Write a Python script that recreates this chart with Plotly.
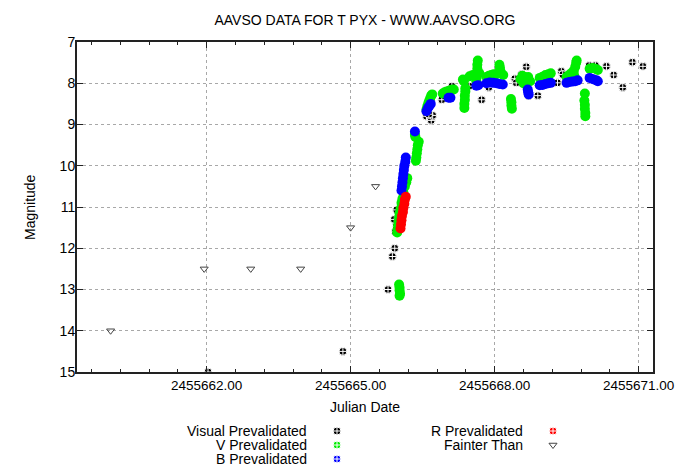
import plotly.graph_objects as go

# Visual Prevalidated (black)
vis_jd = [2455662.03, 2455664.84, 2455665.78, 2455665.87, 2455665.92, 2455665.93, 2455665.95,
          2455665.91, 2455665.96, 2455666.19, 2455666.16, 2455666.58, 2455666.68, 2455666.71,
          2455666.63, 2455666.90, 2455667.11, 2455667.47, 2455667.52, 2455667.73, 2455667.88,
          2455668.42, 2455668.45, 2455668.56, 2455668.66, 2455668.71, 2455668.90, 2455669.31,
          2455669.39, 2455669.42, 2455669.97, 2455670.10, 2455670.33, 2455670.48, 2455670.67,
          2455670.87, 2455671.09]
vis_mag = [15.0, 14.5, 13.0, 12.2, 12.0, 11.6, 11.47,
           11.3, 11.07, 10.3, 10.34, 8.8, 8.9, 8.78,
           8.75, 8.4, 8.07, 8.07, 7.79, 8.4, 8.1,
           7.89, 7.99, 7.79, 7.6, 8.3, 8.3, 7.99,
           7.71, 7.79, 7.57, 7.57, 7.59, 7.8, 8.1,
           7.49, 7.59]

# V Prevalidated (green)
v_jd = [2455666.01, 2455666.02, 2455666.02, 2455666.03, 2455666.02,
        2455665.97, 2455665.98, 2455665.99, 2455666.00, 2455666.01, 2455666.02, 2455666.04,
        2455666.06, 2455666.08, 2455666.10, 2455666.13, 2455666.16, 2455666.18,
        2455666.34, 2455666.35,
        2455666.36, 2455666.37, 2455666.38, 2455666.39, 2455666.40, 2455666.42,
        2455666.58, 2455666.60, 2455666.62, 2455666.64, 2455666.66, 2455666.68, 2455666.70,
        2455666.92, 2455666.96, 2455667.00, 2455667.05, 2455667.10, 2455667.15,
        2455667.37, 2455667.37, 2455667.38, 2455667.38, 2455667.39, 2455667.39, 2455667.34, 2455667.36,
        2455667.62, 2455667.63, 2455667.63, 2455667.64, 2455667.64, 2455667.65,
        2455667.48, 2455667.55, 2455667.68,
        2455667.83, 2455667.88, 2455667.93, 2455667.98, 2455668.03, 2455668.08, 2455668.13, 2455668.18,
        2455668.10, 2455668.11, 2455668.12,
        2455668.34, 2455668.35, 2455668.35, 2455668.36,
        2455668.54, 2455668.58, 2455668.62, 2455668.66, 2455668.70, 2455668.74, 2455668.60, 2455668.65,
        2455668.94, 2455669.00, 2455669.06, 2455669.12, 2455669.17,
        2455669.50, 2455669.55, 2455669.60, 2455669.65, 2455669.68, 2455669.70, 2455669.71,
        2455669.58, 2455669.66,
        2455669.88, 2455669.87, 2455669.88, 2455669.88, 2455669.89, 2455669.89,
        2455669.98, 2455670.04, 2455670.10, 2455670.15]
v_mag = [12.88, 12.95, 13.02, 13.1, 13.15,
         11.62, 11.55, 11.45, 11.35, 11.25, 11.15, 11.05,
         10.9, 10.8, 10.65, 10.5, 10.4, 10.3,
         9.25, 9.3,
         9.88, 9.8, 9.7, 9.6, 9.5, 9.42,
         8.64, 8.55, 8.48, 8.42, 8.36, 8.3, 8.27,
         8.25, 8.22, 8.2, 8.18, 8.16, 8.15,
         8.6, 8.5, 8.4, 8.3, 8.2, 8.12, 7.91, 7.95,
         7.95, 7.85, 7.75, 7.65, 7.55, 7.45,
         7.83, 7.8, 7.75,
         7.85, 7.82, 7.8, 7.78, 7.78, 7.76, 7.75, 7.8,
         7.55, 7.62, 7.7,
         8.38, 8.46, 8.54, 8.62,
         7.9, 7.82, 7.85, 7.9, 7.85, 7.95, 8.0, 8.03,
         7.87, 7.84, 7.8, 7.78, 7.76,
         7.85, 7.8, 7.75, 7.7, 7.6, 7.5, 7.45,
         7.87, 7.82,
         8.25, 8.42, 8.52, 8.62, 8.72, 8.8,
         7.65, 7.63, 7.65, 7.68]

# B Prevalidated (blue)
b_jd = [2455666.06, 2455666.07, 2455666.08, 2455666.09, 2455666.10, 2455666.11, 2455666.12,
        2455666.14, 2455666.15, 2455666.34,
        2455666.58, 2455666.61, 2455666.64, 2455666.67,
        2455667.04, 2455667.08, 2455667.62, 2455667.66,
        2455667.83, 2455667.90, 2455667.97, 2455668.04, 2455668.10, 2455668.17,
        2455668.69, 2455668.70, 2455668.71,
        2455668.94, 2455669.00, 2455669.06, 2455669.12, 2455669.17,
        2455669.50, 2455669.56, 2455669.62, 2455669.68, 2455669.73,
        2455669.98, 2455670.05, 2455670.12, 2455670.15]
b_mag = [10.6, 10.5, 10.4, 10.3, 10.2, 10.1, 10.0,
         9.9, 9.8, 9.17,
         8.68, 8.6, 8.55, 8.5,
         8.35, 8.35, 8.06, 8.05,
         8.0, 7.98, 7.99, 8.0, 8.02, 8.03,
         8.15, 8.22, 8.27,
         8.05, 8.04, 8.02, 8.0, 7.99,
         7.99, 7.97, 7.96, 7.95, 7.93,
         7.87, 7.9, 7.93, 7.95]

# R Prevalidated (red)
r_jd = [2455666.04, 2455666.05, 2455666.06, 2455666.07, 2455666.09, 2455666.10, 2455666.12,
        2455666.13, 2455666.15]
r_mag = [11.52, 11.42, 11.32, 11.22, 11.12, 11.02, 10.92, 10.82, 10.75]

# Fainter Than (open triangles)
f_jd = [2455660.00, 2455661.95, 2455662.92, 2455663.96, 2455665.00, 2455665.52]
f_mag = [14.0, 12.5, 12.5, 12.5, 11.5, 10.5]

x_ticks = [2455662, 2455665, 2455668, 2455671]
x_tick_text = ["2455662.00", "2455665.00", "2455668.00", "2455671.00"]

FONT = "Liberation Sans"
FS = 14
W, H = 675, 473
ML, MR, MT, MB = 77, 22, 42, 10
plot_bottom = 372
paper_h = H - MT - MB
ydom0 = (H - MB - plot_bottom) / paper_h

fig = go.Figure()

fig.add_trace(go.Scatter(x=vis_jd, y=vis_mag, mode="markers",
                         marker=dict(symbol="circle-cross", size=8, color="black",
                                     line=dict(color="white", width=1))))
fig.add_trace(go.Scatter(x=v_jd, y=v_mag, mode="markers",
                         marker=dict(symbol="circle", size=10, color="#00ee00", line=dict(width=0))))
fig.add_trace(go.Scatter(x=b_jd, y=b_mag, mode="markers",
                         marker=dict(symbol="circle", size=10, color="#0000ff", line=dict(width=0))))
fig.add_trace(go.Scatter(x=r_jd, y=r_mag, mode="markers",
                         marker=dict(symbol="circle", size=10, color="#ff0000", line=dict(width=0))))
fig.add_trace(go.Scatter(x=f_jd, y=f_mag, mode="markers",
                         marker=dict(symbol="triangle-down-open", size=7, color="#444444",
                                     line=dict(width=1))))

# Legend (text left of symbol, like the original); positions in page pixels
leg_labels = ["Visual Prevalidated", "V Prevalidated", "B Prevalidated",
              "R Prevalidated", "Fainter Than"]
leg_colors = ["black", "#00ee00", "#0000ff", "#ff0000", "#444444"]
leg_text_px = [308, 308, 308, 524, 524]
leg_mark_px = [337, 337, 337, 553, 553]
leg_row_py = [431, 445, 459, 431, 445]

for i, lab in enumerate(leg_labels):
    if lab == "Fainter Than":
        mk = dict(symbol="triangle-down-open", size=7, color=leg_colors[i],
                  line=dict(color=leg_colors[i], width=1))
    else:
        mk = dict(symbol="circle-cross", size=8, color=leg_colors[i],
                  line=dict(color="white", width=1))
    yy = (H - MB) - leg_row_py[i]
    fig.add_trace(go.Scatter(x=[leg_mark_px[i] - ML], y=[yy], xaxis="x2", yaxis="y2",
                             mode="markers", marker=mk))
    fig.add_annotation(x=leg_text_px[i] - ML, y=yy, xref="x2", yref="y2", text=lab,
                       showarrow=False, xanchor="right", yanchor="middle", borderpad=0,
                       font=dict(family=FONT, size=FS, color="black"))

axis_common = dict(showline=True, linecolor="#222222", linewidth=2, mirror="ticks",
                   ticks="inside", tickcolor="#222222", ticklen=6, tickwidth=1,
                   showgrid=True, gridcolor="#a8a8a8", griddash="dot", gridwidth=1,
                   zeroline=False, automargin=False, ticklabeloverflow="allow",
                   tickfont=dict(family=FONT, size=FS, color="black"))

fig.update_layout(
    width=W, height=H,
    margin=dict(l=ML, r=MR, t=MT, b=MB, autoexpand=False),
    paper_bgcolor="white", plot_bgcolor="white",
    showlegend=False,
    title=dict(text="AAVSO DATA FOR T PYX - WWW.AAVSO.ORG", x=0.5, xref="paper",
               y=1 - 20 / H, yanchor="middle",
               font=dict(family=FONT, size=FS, color="black")),
    xaxis=dict(axis_common, range=[2455659.3, 2455671.3], tickvals=x_ticks,
               ticktext=x_tick_text, anchor="y",
               tickfont=dict(family=FONT, size=13.5, color="black"),
               minor=dict(ticks="inside", ticklen=3, tickcolor="#222222",
                          tick0=2455662, dtick=0.6, showgrid=False)),
    yaxis=dict(axis_common, range=[15, 7], dtick=1, tick0=7, domain=[ydom0, 1], anchor="x",
               ticklabelstandoff=-3),
    xaxis2=dict(range=[0, W - ML - MR], domain=[0, 1], visible=False, anchor="y2",
                fixedrange=True),
    yaxis2=dict(range=[0, H - MB - plot_bottom], domain=[0, ydom0], visible=False,
                anchor="x2", fixedrange=True),
)

fig.add_annotation(text="Julian Date", xref="paper", yref="paper", x=0.5,
                   y=(H - MB - 407) / paper_h, showarrow=False, yanchor="middle",
                   font=dict(family=FONT, size=FS, color="black"))
fig.add_annotation(text="Magnitude", xref="paper", yref="paper", x=(30 - ML) / (W - ML - MR),
                   y=(H - MB - 207) / paper_h, showarrow=False, textangle=-90,
                   xanchor="center", yanchor="middle",
                   font=dict(family=FONT, size=FS, color="black"))

# drop the page's default body margin so the figure sits at the window's top-left
fig.write_html("out.html", config={"displayModeBar": False},
               post_script="document.body.style.margin='0';document.body.style.overflow='hidden';")
